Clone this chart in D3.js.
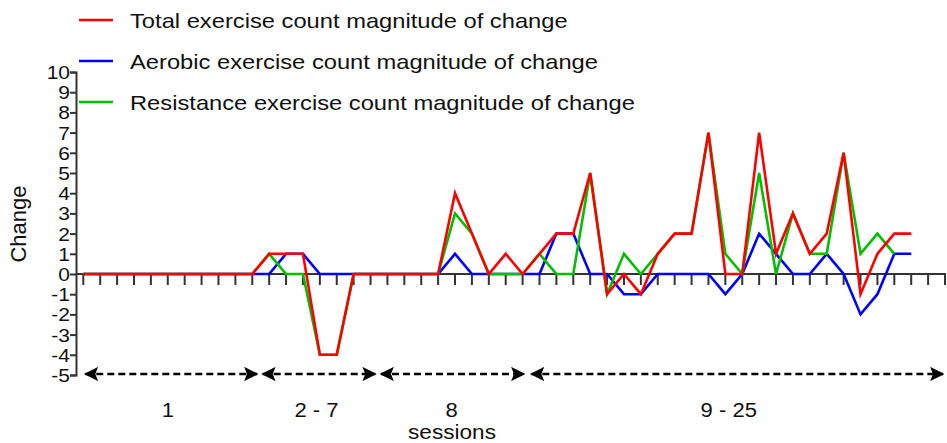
<!DOCTYPE html>
<html>
<head>
<meta charset="utf-8">
<script src="https://cdn.jsdelivr.net/npm/d3@7"></script>
<style>
  html, body { margin: 0; padding: 0; background: #fff; }
  svg { display: block; font-family: "Liberation Sans", Arial, sans-serif; }
</style>
</head>
<body>
<div id="chart"></div>
<script>
// valores, un punto por tick del eje x
const TOTAL      = [0,0,0,0,0,0,0,0,0,0,0, 1,1,1,-4,-4, 0,0,0,0,0,0,4,2,0,1,0,1,2,2,5,-1,0,-1,1,2,2,7,0,0,7,1,3,1,2,6,-1,1,2,2];
const AEROBIC    = [0,0,0,0,0,0,0,0,0,0,0, 0,1,1,0,0, 0,0,0,0,0,0,1,0,0,0,0,0,2,2,0,0,-1,-1,0,0,0,0,-1,0,2,1,0,0,1,0,-2,-1,1,1];
const RESISTANCE = [0,0,0,0,0,0,0,0,0,0,0, 1,0,0,-4,-4, 0,0,0,0,0,0,3,2,0,0,0,1,0,0,5,-1,1,0,1,2,2,7,1,0,5,0,3,1,1,6,1,2,1];
const SERIES_NAMES = [
  "Total exercise count magnitude of change",
  "Aerobic exercise count magnitude of change",
  "Resistance exercise count magnitude of change"
];
const Y_TICKS = [10,9,8,7,6,5,4,3,2,1,0,-1,-2,-3,-4,-5];
const N_TICKS = 52;
// tramos de sesiones (en unidades de tick)
const SESSION_LABELS = ["1", "2 - 7", "8", "9 - 25"];
const SESSION_SPANS  = [[0, 10.4], [10.5, 17.4], [17.5, 26.2], [26.4, 51]];
const SESSION_MID    = [5, 13.8, 21.8, 38.2];

const COLORS = { total: "#ff0000", aerobic: "#0000ff", resistance: "#00c000" };
const STRETCH = 1.13; // el texto del original sale algo ensanchado

const width = 947, height = 443;
const svg = d3.select("#chart").append("svg").attr("width", width).attr("height", height);

const x = d3.scaleLinear().domain([0, N_TICKS - 1]).range([83.3, 945]);
const y = d3.scaleLinear().domain([-5, 10]).range([375, 72]);

function wideText(sel, tx, ty, anchor) {
  return sel.append("text")
    .attr("transform", `translate(${tx},${ty}) scale(${STRETCH},1)`)
    .attr("text-anchor", anchor || "start").attr("fill", "#111");
}

// Eje Y
const yAxis = svg.append("g").attr("transform", "translate(76,0)")
  .call(d3.axisLeft(y).tickValues(Y_TICKS).tickFormat(d3.format("d")).tickSize(6));
yAxis.select(".domain").attr("stroke", "#333").attr("stroke-width", 2);
yAxis.selectAll(".tick line").attr("stroke", "#333").attr("stroke-width", 2);
yAxis.selectAll(".tick text").remove();
yAxis.selectAll(".tick").each(function(d) {
  wideText(d3.select(this), -6, 6.5, "end")
    .attr("font-size", 18.6).text(d);
});

svg.append("text")
  .attr("transform", `translate(26,224) rotate(-90)`)
  .attr("text-anchor", "middle").attr("font-size", 22).attr("fill", "#111")
  .text("Change");

// Eje X en y = 0
const xAxis = svg.append("g").attr("transform", `translate(0,${y(0)})`);
xAxis.append("line").attr("x1", 76).attr("x2", x(N_TICKS - 1) + 1)
  .attr("stroke", "#333").attr("stroke-width", 2);
xAxis.selectAll("line.tk").data(d3.range(N_TICKS)).join("line").attr("class", "tk")
  .attr("x1", d => x(d)).attr("x2", d => x(d)).attr("y1", 0).attr("y2", 11)
  .attr("stroke", "#333").attr("stroke-width", 2);

// Líneas
const line = d3.line().x((d, i) => x(i)).y(d => y(d));
const series = [
  { key: "aerobic", values: AEROBIC },
  { key: "resistance", values: RESISTANCE },
  { key: "total", values: TOTAL }
];
svg.selectAll("path.series").data(series).join("path").attr("class", "series")
  .attr("d", d => line(d.values))
  .attr("fill", "none")
  .attr("stroke", d => COLORS[d.key])
  .attr("stroke-width", 2.6)
  .attr("stroke-linejoin", "miter");

// Leyenda
const legend = svg.append("g").attr("transform", "translate(79,20)");
const legendKeys = ["total", "aerobic", "resistance"];
legend.selectAll("g.item").data(legendKeys).join("g").attr("class", "item")
  .attr("transform", (d, i) => `translate(0,${i * 41})`)
  .each(function(d, i) {
    const s = d3.select(this);
    s.append("line").attr("x1", 0).attr("x2", 34).attr("y1", 0).attr("y2", 0)
      .attr("stroke", COLORS[d]).attr("stroke-width", 2.6);
    wideText(s, 51, 7.5).attr("font-size", 21).text(SERIES_NAMES[i]);
  });

// Flechas de sesiones
const defs = svg.append("defs");
defs.append("marker").attr("id", "ah").attr("viewBox", "0 0 10 10")
  .attr("refX", 9).attr("refY", 5).attr("markerWidth", 5.5).attr("markerHeight", 5.5)
  .attr("orient", "auto-start-reverse").attr("markerUnits", "strokeWidth")
  .append("path").attr("d", "M0,0 L10,5 L0,10 L2,5 Z").attr("fill", "#000");

const arrowY = 374;
svg.selectAll("line.span").data(SESSION_SPANS).join("line").attr("class", "span")
  .attr("x1", d => x(d[0]) + 2).attr("x2", d => x(d[1]) - 2)
  .attr("y1", arrowY).attr("y2", arrowY)
  .attr("stroke", "#000").attr("stroke-width", 2.6)
  .attr("stroke-dasharray", "7,4")
  .attr("marker-start", "url(#ah)").attr("marker-end", "url(#ah)");

SESSION_LABELS.forEach((lab, i) => {
  wideText(svg, x(SESSION_MID[i]), 417, "middle").attr("font-size", 19.5).text(lab);
});

wideText(svg, 452, 439, "middle").attr("font-size", 20).text("sessions");
</script>
</body>
</html>
